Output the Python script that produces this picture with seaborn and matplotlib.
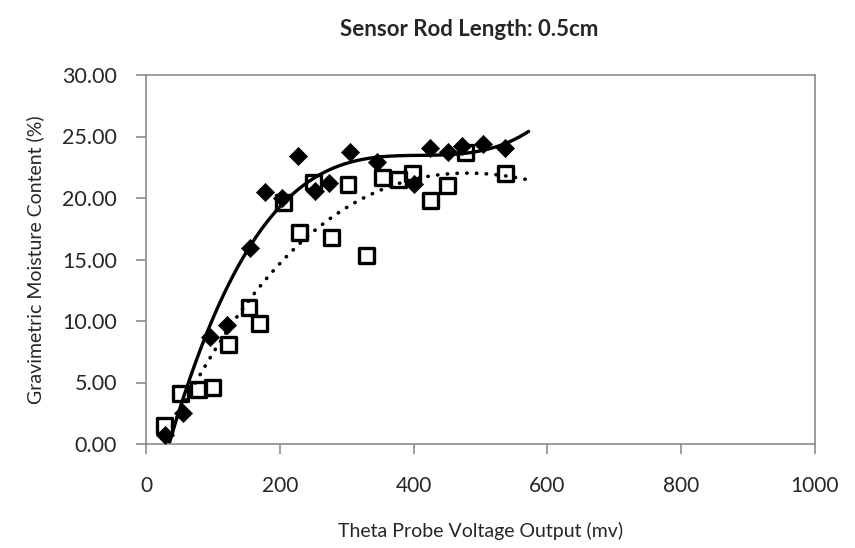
import numpy as np
import pandas as pd
import matplotlib
matplotlib.use("Agg")
import matplotlib.pyplot as plt
import seaborn as sns

# --- data ---
diamond_x = [28, 55, 96, 121, 155, 178, 203, 227, 253, 274, 305, 345, 401, 425, 451, 472, 504, 537]
diamond_y = [0.7, 2.5, 8.7, 9.7, 15.9, 20.5, 20.0, 23.4, 20.6, 21.2, 23.7, 22.9, 21.1, 24.1, 23.7, 24.2, 24.4, 24.1]

square_x = [28, 51, 78, 99, 123, 154, 170, 205, 229, 250, 277, 302, 330, 354, 377, 399, 425, 451, 478, 537]
square_y = [1.5, 4.1, 4.4, 4.6, 8.1, 11.1, 9.8, 19.6, 17.2, 21.3, 16.8, 21.1, 15.3, 21.7, 21.5, 22.0, 19.8, 21.0, 23.7, 22.0]

x_ticks = [0, 200, 400, 600, 800, 1000]
y_ticks = [0, 5, 10, 15, 20, 25, 30]
title = "Sensor Rod Length: 0.5cm"
xlabel = "Theta Probe Voltage Output (mv)"
ylabel = "Gravimetric Moisture Content (%)"

sns.set_theme(style="white")
plt.rcParams["font.family"] = ["Lato", "DejaVu Sans"]

fig = plt.figure(figsize=(8.55, 5.48), dpi=100)
ax = fig.add_axes([146 / 855, 1 - 444 / 548, (815 - 146) / 855, (444 - 75) / 548])

# trendlines (3rd order polynomial fits of each series)
def trend(xs, ys, x0, x1):
    c = np.polyfit(xs, ys, 3)
    xx = np.linspace(x0, x1, 300)
    return pd.DataFrame({"x": xx, "y": np.polyval(c, xx)})

t1 = trend(diamond_x, diamond_y, 33, 572)
t2 = trend(square_x, square_y, 33, 578)
t1 = t1[t1.y >= 0]
t2 = t2[t2.y >= 0]

sns.lineplot(data=t2, x="x", y="y", ax=ax, color="black", lw=2.6,
             linestyle=(0, (0.1, 2.6)), dash_capstyle="round", zorder=2)
sns.lineplot(data=t1, x="x", y="y", ax=ax, color="black", lw=2.4, zorder=2)

df_d = pd.DataFrame({"x": diamond_x, "y": diamond_y})
df_s = pd.DataFrame({"x": square_x, "y": square_y})
sns.scatterplot(data=df_d, x="x", y="y", ax=ax, marker="D", s=85,
                color="black", edgecolor="black", linewidth=0.5, zorder=3)
sns.scatterplot(data=df_s, x="x", y="y", ax=ax, marker="s", s=115,
                facecolor="none", edgecolor="black", linewidth=2.4, zorder=4)

ax.set_xlim(0, 1000)
ax.set_ylim(0, 30)
ax.set_xticks(x_ticks)
ax.set_yticks(y_ticks)
ax.set_xticklabels([str(v) for v in x_ticks], fontsize=15)
ax.set_yticklabels([f"{v:.2f}" for v in y_ticks], fontsize=15.5)
ax.tick_params(axis="both", direction="out", length=7, width=1.2, color="#8c8c8c",
               bottom=True, left=True)
ax.tick_params(axis="x", pad=16)
ax.tick_params(axis="y", pad=14)
for s in ax.spines.values():
    s.set_color("#8c8c8c")
    s.set_linewidth(1.2)

ax.set_xlabel(xlabel, fontsize=14, labelpad=19)
ax.set_ylabel(ylabel, fontsize=14, labelpad=13)
fig.text(469 / 855, 1 - 30 / 548, title, ha="center", va="center",
         fontsize=16, fontweight="bold")

fig.savefig("out.png", dpi=100)
